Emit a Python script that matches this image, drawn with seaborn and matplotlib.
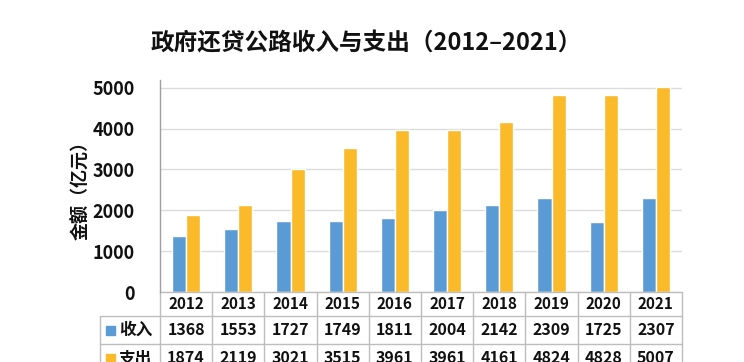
import matplotlib
matplotlib.use("Agg")
import matplotlib.pyplot as plt
import seaborn as sns
import pandas as pd
from matplotlib.patches import Rectangle

years = ["2012", "2013", "2014", "2015", "2016", "2017", "2018", "2019", "2020", "2021"]
income = [1368, 1553, 1727, 1749, 1811, 2004, 2142, 2309, 1725, 2307]
expense = [1874, 2119, 3021, 3515, 3961, 3961, 4161, 4824, 4828, 5007]
series = ["收入", "支出"]
colors = ["#5B9BD5", "#FBBA2A"]
yticks = [0, 1000, 2000, 3000, 4000, 5000]

sns.set_theme(style="white")
plt.rcParams['font.family'] = ['Noto Sans CJK SC', 'DejaVu Sans']

df = pd.DataFrame({
    "年份": years * 2,
    "金额": income + expense,
    "类型": [series[0]] * len(years) + [series[1]] * len(years),
})

fig = plt.figure(figsize=(7.44, 3.62), dpi=100)
ax = fig.add_axes([160 / 744, 1 - 292 / 362, 522 / 744, 212 / 362])

sns.barplot(data=df, x="年份", y="金额", hue="类型", palette=colors,
            width=0.54, ax=ax, legend=False, saturation=1)

ax.set_xlim(-0.5, len(years) - 0.5)
ax.set_ylim(0, 5190)
ax.set_yticks(yticks)
ax.set_yticklabels([str(t) for t in yticks], fontsize=13, fontweight="bold", color="#111111")
ax.tick_params(axis="y", length=0, pad=18)
ax.set_xticks([])
ax.set_xlabel("")
ax.set_ylabel("金额（亿元）", fontsize=13, fontweight="bold", color="#111111", labelpad=2)
ax.yaxis.grid(True, color="#DCDCDC", linewidth=1)
ax.set_axisbelow(True)
for s in ["top", "right", "bottom"]:
    ax.spines[s].set_visible(False)
ax.spines["left"].set_color("#A0A0A0")
ax.spines["left"].set_linewidth(1)

fig.text(366 / 744, 1 - 43 / 362, "政府还贷公路收入与支出（2012–2021）",
         ha="center", va="center", fontsize=17, fontweight="bold", color="#111111")

# data table below the axes
axh = 212.0
rowh = [24 / axh, 28 / axh, 28 / axh]
left_x = -60 / 522
colw = 1.0 / len(years)
border = "#BDBDBD"
tr = ax.transAxes
ys = [0]
for h in rowh:
    ys.append(ys[-1] - h)

def hline(x0, x1, y):
    ax.plot([x0, x1], [y, y], color=border, lw=1, transform=tr, clip_on=False)

def vline(x, y0, y1):
    ax.plot([x, x], [y0, y1], color=border, lw=1, transform=tr, clip_on=False)

hline(0, 1, ys[0])
for y in ys[1:]:
    hline(left_x, 1, y)
vline(left_x, ys[1], ys[3])
for i in range(len(years) + 1):
    vline(i * colw, ys[0], ys[3])

for i, yr in enumerate(years):
    ax.text((i + 0.5) * colw, (ys[0] + ys[1]) / 2, yr, transform=tr, ha="center", va="center",
            fontsize=11, fontweight="bold", color="#111111")
rows = [income, expense]
for r, vals in enumerate(rows):
    yc = (ys[r + 1] + ys[r + 2]) / 2
    for i, v in enumerate(vals):
        ax.text((i + 0.5) * colw, yc, str(v), transform=tr, ha="center", va="center",
                fontsize=11.5, fontweight="bold", color="#111111", clip_on=False)
    sq = 9 / 522
    ax.add_patch(Rectangle((left_x + 6 / 522, yc - 4.5 / axh), sq, 9 / axh, transform=tr,
                           color=colors[r], clip_on=False))
    ax.text(left_x + 19 / 522, yc, series[r], transform=tr, ha="left", va="center",
            fontsize=12, fontweight="bold", color="#111111", clip_on=False)

fig.savefig("out.png", dpi=100)
